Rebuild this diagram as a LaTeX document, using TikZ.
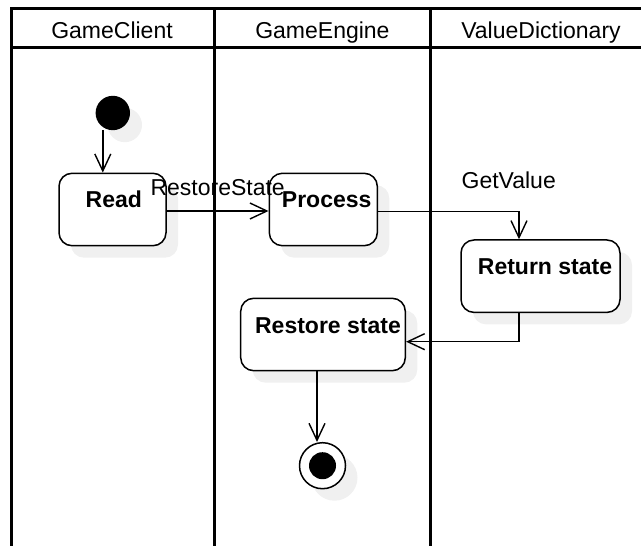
\documentclass[tikz,border=0pt]{standalone}
\usepackage{fontspec}
\setmainfont{Liberation Sans}
\usetikzlibrary{arrows.meta,shadows,calc}

\tikzset{
  lane/.style={line width=3bp, line join=miter},
  shade box/.style={general shadow={shadow xshift=12bp, shadow yshift=-12bp, fill=black!6}},
  act/.style={draw, line width=1.5bp, rounded corners=13bp, fill=white, shade box,
    minimum height=72.4bp, inner sep=0pt},
  acttext/.style={font=\bfseries\fontsize{23bp}{27bp}\selectfont, anchor=base, inner sep=0pt},
  lanetitle/.style={font=\fontsize{23bp}{27bp}\selectfont, anchor=base, inner sep=0pt},
  flowlabel/.style={font=\fontsize{23bp}{27bp}\selectfont, anchor=base, inner sep=0pt},
  flow/.style={line width=1.4bp, -{Straight Barb[length=17bp,width=16bp,line width=1.4bp]}},
}

\begin{document}
\begin{tikzpicture}[x=1bp,y=-1bp]
\useasboundingbox (0,0) rectangle (641,546);

% swimlane frame
\draw[lane] (645,9) -- (11,9) -- (11,550);
\draw[lane] (11,47.5) -- (645,47.5);
\draw[lane] (214.3,9) -- (214.3,550);
\draw[lane] (430.5,9) -- (430.5,550);

\node[lanetitle] (t1) at (112,39) {GameClient};
\node[lanetitle] (t2) at (322.4,39) {GameEngine};
\node[lanetitle] (t3) at (541,39) {ValueDictionary};

% initial and final nodes
\node[circle, fill=black, minimum size=34.4bp, inner sep=0pt, shade box] (start) at (112.8,113) {};
\node[circle, draw, line width=1.5bp, fill=white, minimum size=46bp, inner sep=0pt, shade box] (end) at (322.5,465.7) {};
\node[circle, fill=black, minimum size=27bp, inner sep=0pt] (endcore) at (end.center) {};

% activities
\node[act, minimum width=107bp] (read) at (112.5,209.5) {};
\node[act, minimum width=108bp] (process) at (323.3,209.5) {};
\node[act, minimum width=159bp] (ret) at (540.5,276.2) {};
\node[act, minimum width=164.6bp] (restore) at (323,334.5) {};

\node[acttext] (readtxt) at ($(read.north)+(1.3,35)$) {Read};
\node[acttext] (processtxt) at ($(process.north)+(3.4,35)$) {Process};
\node[acttext] (rettxt) at ($(ret.north)+(4.5,35.5)$) {Return state};
\node[acttext] (restoretxt) at ($(restore.north)+(5,35.7)$) {Restore state};

% control flows
\draw[flow] ([xshift=-10bp]start.south) -- ([xshift=-10bp]start.south |- read.north);
\draw[flow] ([yshift=-1.5bp]read.east) -- node[flowlabel, yshift=15bp] (lrs) {RestoreState} ([yshift=-1.5bp]process.west);
\draw[flow] ([yshift=-2bp]process.east) -| ([xshift=-21.5bp]ret.north);
\draw[flow] ([xshift=-21.5bp]ret.south) |- ([yshift=-7.2bp]restore.east);
\draw[flow] ([xshift=-6bp]restore.south) -- ([xshift=-6bp]restore.south |- end.north);

\node[flowlabel] (lgv) at (508.7,188.3) {GetValue};
\end{tikzpicture}
\end{document}
